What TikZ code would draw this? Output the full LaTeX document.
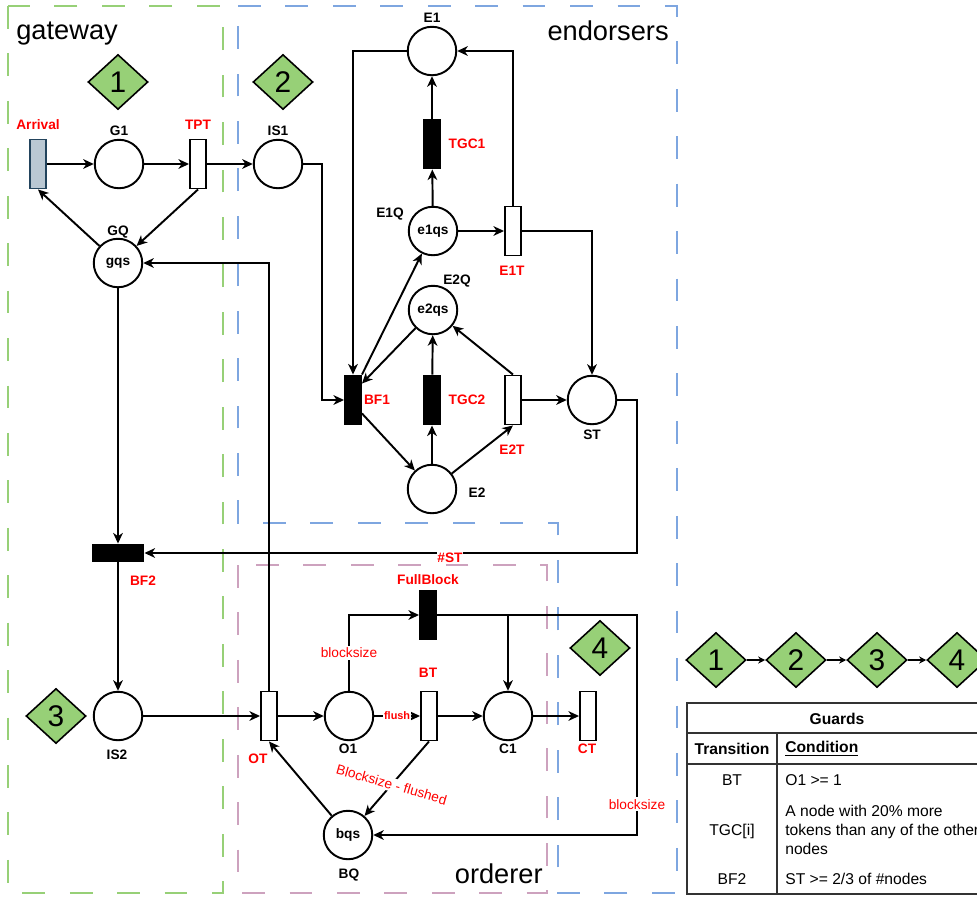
\documentclass[tikz,border=0pt]{standalone}
\usepackage{fontspec}
\setmainfont{Liberation Sans}
\usetikzlibrary{arrows.meta,shapes.geometric}
\definecolor{zgreen}{HTML}{97D077}
\definecolor{zblue}{HTML}{7EA6E0}
\definecolor{zpink}{HTML}{CDA2BE}
\definecolor{stagegreen}{HTML}{97D077}
\definecolor{arrfill}{HTML}{BAC8D3}
\definecolor{arrline}{HTML}{23445D}
\newcommand\lblfont{\fontsize{7.8}{9.4}\selectfont\bfseries}
\newcommand\tabfont{\fontsize{8.9}{10.8}\selectfont}
\begin{document}
\begin{tikzpicture}[x=0.02cm,y=-0.02cm,
  place/.style={draw,circle,line width=1.1pt,minimum size=0.97cm,inner sep=0pt,font=\lblfont},
  trans/.style={draw,rectangle,line width=1.1pt,minimum width=0.32cm,minimum height=0.98cm,inner sep=0pt,fill=white},
  btrans/.style={trans,fill=black},
  lab/.style={inner sep=0.5pt,font=\lblfont},
  rlab/.style={lab,text=red},
  elab/.style={fill=white,text=red,inner sep=1pt,font=\fontsize{7.8}{9.4}\selectfont},
  arc/.style={line width=1.1pt,-{Stealth[length=6pt,width=5.5pt,inset=1.8pt]}},
  lnk/.style={line width=0.7pt,-{Stealth[length=4pt,width=4pt]}},
  stage/.style={draw,diamond,fill=stagegreen,line width=0.9pt,minimum width=1.2cm,minimum height=1.1cm,inner sep=0pt,font=\fontsize{17}{17}\selectfont},
  zone/.style={line width=1.1pt,dash pattern=on 13pt off 14pt},
  zonetitle/.style={inner sep=0pt,font=\fontsize{15.5}{16}\selectfont},
  tab/.style={inner sep=0pt,font=\tabfont}]
\clip (0,0) rectangle (977,896);
\draw[zone,zgreen] (8,6) rectangle (223,893);
\draw[zone,zblue] (238,6) -- (677,6) -- (677,893) -- (558,893) -- (558,523) -- (238,523) -- cycle;
\draw[zone,zpink] (238,565) rectangle (547,893);
\node[zonetitle,anchor=base west] (tGate) at (16,39) {gateway};
\node[zonetitle,anchor=base east] (tEnd) at (669,40) {endorsers};
\node[zonetitle,anchor=base east] (tOrd) at (543,883) {orderer};

\node[stage] (S1) at (118,82) {1};
\node[stage] (S2) at (283,82) {2};
\node[stage] (S3) at (56,716) {3};
\node[stage] (S4) at (600,648) {4};

\node[trans,fill=arrfill,draw=arrline] (Arr) at (38,164) {};
\node[place] (G1) at (119,164) {};
\node[trans] (TPT) at (198,164) {};
\node[place] (IS1) at (278,164) {};
\node[place] (GQ) at (118,263) {gqs};
\node[btrans,minimum width=1.02cm,minimum height=0.34cm] (BF2) at (118,553) {};
\node[place] (IS2) at (118,716) {};
\node[place] (E1) at (432,51) {};
\node[btrans] (TGC1) at (432,144) {};
\node[place] (E1Q) at (433,231) {e1qs};
\node[trans] (E1T) at (513,231) {};
\node[place] (E2Q) at (433,310) {e2qs};
\node[btrans] (BF1) at (353,400) {};
\node[btrans] (TGC2) at (432,400) {};
\node[trans] (E2T) at (513,400) {};
\node[place] (ST) at (592,400) {};
\node[place] (E2) at (432,489) {};
\node[trans] (OT) at (269,716) {};
\node[place] (O1) at (349,716) {};
\node[trans] (BT) at (429,716) {};
\node[place] (C1) at (508,716) {};
\node[trans] (CT) at (588,716) {};
\node[btrans] (FB) at (428,615) {};
\node[place] (BQ) at (348,835) {bqs};

\node[rlab] (lArr) at (38,125) {Arrival};
\node[lab] (lG1) at (119,131) {G1};
\node[rlab] (lTPT) at (198,125) {TPT};
\node[lab] (lIS1) at (278,131) {IS1};
\node[lab] (lGQ) at (118,232) {GQ};
\node[lab] (lE1) at (432,18) {E1};
\node[rlab] (lTGC1) at (467,144) {TGC1};
\node[lab] (lE1Q) at (390,214) {E1Q};
\node[rlab] (lE1T) at (512,271) {E1T};
\node[lab] (lE2Q) at (457,281) {E2Q};
\node[rlab] (lBF1) at (377,400) {BF1};
\node[rlab] (lTGC2) at (467,400) {TGC2};
\node[rlab] (lE2T) at (512,450) {E2T};
\node[lab] (lST) at (592,435) {ST};
\node[lab] (lE2) at (477,493) {E2};
\node[rlab] (lBF2) at (143,581) {BF2};
\node[lab] (lIS2) at (117,755) {IS2};
\node[rlab] (lOT) at (258,759) {OT};
\node[lab] (lO1) at (348,749) {O1};
\node[rlab] (lBT) at (428,673) {BT};
\node[lab] (lC1) at (508,749) {C1};
\node[rlab] (lCT) at (587,749) {CT};
\node[rlab] (lFB) at (428,580) {FullBlock};
\node[lab] (lBQ) at (349,875) {BQ};

\draw[arc] (Arr) -- (G1);
\draw[arc] (G1) -- (TPT);
\draw[arc] (TPT) -- (IS1);
\draw[arc] (TPT.south) -- (GQ);
\draw[arc] (GQ) -- (Arr.south);
\draw[arc] (GQ) -- (BF2);
\draw[arc] (BF2) -- (IS2);
\draw[arc] (IS2) -- (OT);
\draw[arc] (IS1.east) -- ++(19,0) |- (BF1.west);
\draw[arc] (E1.west) -| (BF1.north);
\draw[arc] (BF1.north east) -- (E1Q);
\draw[arc] (E2Q) -- ([yshift=-0.18cm]BF1.north east);
\draw[arc] ([yshift=0.24cm]BF1.south east) -- (E2);
\draw[arc] (E2) -- (TGC2);
\draw[arc] (TGC2) -- (E2Q);
\draw[arc] (E2) -- (E2T.south);
\draw[arc] (E2T.north) -- (E2Q);
\draw[arc] (E2T) -- (ST);
\draw[arc] (E1Q) -- (TGC1);
\draw[arc] (TGC1) -- (E1);
\draw[arc] (E1Q) -- (E1T);
\draw[arc] (E1T.north) |- (E1.east);
\draw[arc] (E1T.east) -| (ST.north);
\draw[arc] (ST.east) -- ++(20,0) |- node[pos=0.69,rlab,fill=white,yshift=-0.1cm]{\#ST} (BF2.east);
\draw[arc] (OT) -- (O1);
\draw[arc] (O1) -- node[midway,fill=white,text=red,inner sep=0.5pt,font=\fontsize{6.2}{7}\selectfont\bfseries]{flush} (BT);
\draw[arc] (BT) -- (C1);
\draw[arc] (C1) -- (CT);
\draw[arc] (O1.north) |- node[pos=0.25,elab]{blocksize} (FB.west);
\draw[arc] (FB.east) -| (C1.north);
\draw[arc] (FB.east) -- ++(200,0) |- node[pos=0.43,elab]{blocksize} (BQ.east);
\draw[arc] (BT.south) -- node[pos=0.58,elab,rotate=-16]{Blocksize - flushed} (BQ);
\draw[arc] (BQ) -- (OT.south);
\draw[arc] (OT.north) |- (GQ.east);

\node[stage] (L1) at (716,660) {1};
\node[stage] (L2) at (796,660) {2};
\node[stage] (L3) at (877,660) {3};
\node[stage] (L4) at (957,660) {4};
\draw[lnk] (L1) -- (L2);
\draw[lnk] (L2) -- (L3);
\draw[lnk] (L3) -- (L4);

\draw[line width=0.8pt,black!80] (687,703) rectangle (990,894);
\draw[line width=0.8pt,black!80] (687,733) -- (990,733);
\draw[line width=0.8pt,black!80] (687,764) -- (990,764);
\draw[line width=0.8pt,black!80] (777,733) -- (777,894);
\node[tab,font=\tabfont\bfseries] (hGuards) at (837,719) {Guards};
\node[tab,font=\tabfont\bfseries] (hTrans) at (732,749) {Transition};
\node[tab,font=\tabfont\bfseries,anchor=west] (hCond) at (785,749) {\underline{Condition}};
\node[tab] (rBT) at (732,780) {BT};
\node[tab,anchor=west] (cBT) at (785,780) {O1 >= 1};
\node[tab] (rTGC) at (732,831) {TGC[i]};
\node[tab,anchor=west,align=left] (cTGC) at (785,830) {A node with 20\% more\\tokens than any of the other\\nodes};
\node[tab] (rBF2) at (732,879) {BF2};
\node[tab,anchor=west] (cBF2) at (785,879) {ST >= 2/3 of \#nodes};
\end{tikzpicture}
\end{document}
